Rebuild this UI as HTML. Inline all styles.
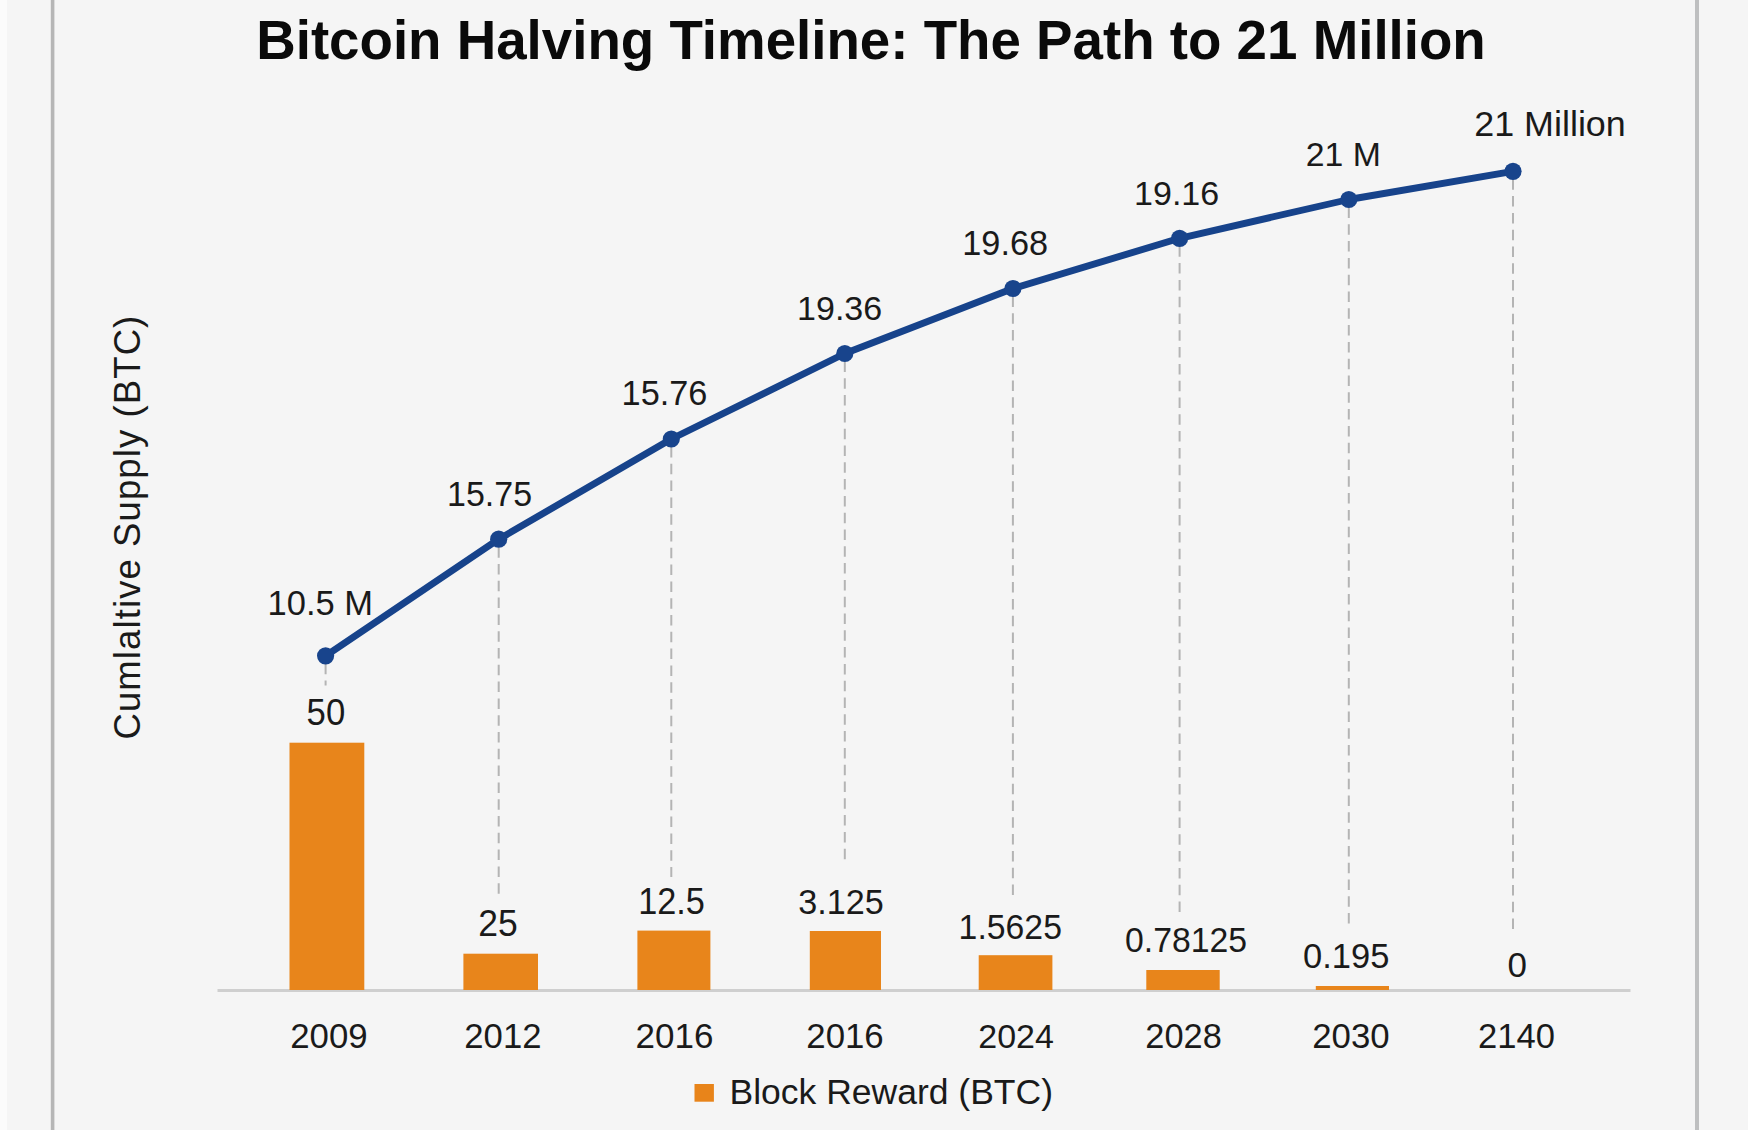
<!DOCTYPE html>
<html><head><meta charset="utf-8"><style>
html,body{margin:0;padding:0;width:1748px;height:1130px;overflow:hidden;background:#f5f5f5}
svg{display:block;font-family:"Liberation Sans",sans-serif;fill:#1a1a1a}
</style></head><body>
<svg width="1748" height="1130" viewBox="0 0 1748 1130">
<rect x="0" y="0" width="1748" height="1130" fill="#f5f5f5"/>
<rect x="0" y="0" width="7" height="1130" fill="#fbfbfb"/>

<rect x="50.8" y="0" width="3.6" height="1130" fill="#b6b6b6"/>
<rect x="1695" y="0" width="4" height="1130" fill="#bebfc0"/>
<line x1="325.6" y1="663.8" x2="325.6" y2="685.6" stroke="#b4b4b4" stroke-width="2" stroke-dasharray="10.5,6.3"/>
<line x1="498.7" y1="547.2" x2="498.7" y2="894.0" stroke="#b4b4b4" stroke-width="2" stroke-dasharray="10.5,6.3"/>
<line x1="671.3" y1="447.0" x2="671.3" y2="877.0" stroke="#b4b4b4" stroke-width="2" stroke-dasharray="10.5,6.3"/>
<line x1="844.8" y1="361.5" x2="844.8" y2="861.6" stroke="#b4b4b4" stroke-width="2" stroke-dasharray="10.5,6.3"/>
<line x1="1012.9" y1="296.5" x2="1012.9" y2="895.0" stroke="#b4b4b4" stroke-width="2" stroke-dasharray="10.5,6.3"/>
<line x1="1179.6" y1="246.3" x2="1179.6" y2="913.0" stroke="#b4b4b4" stroke-width="2" stroke-dasharray="10.5,6.3"/>
<line x1="1348.8" y1="207.5" x2="1348.8" y2="930.0" stroke="#b4b4b4" stroke-width="2" stroke-dasharray="10.5,6.3"/>
<line x1="1513.0" y1="179.3" x2="1513.0" y2="932.0" stroke="#b4b4b4" stroke-width="2" stroke-dasharray="10.5,6.3"/>
<rect x="217.5" y="989" width="1413" height="3" fill="#cfcfcf"/>
<rect x="289.5" y="742.7" width="74.8" height="247.3" fill="#e8851b"/>
<rect x="463.4" y="953.7" width="74.6" height="36.3" fill="#e8851b"/>
<rect x="637.4" y="930.6" width="73.0" height="59.4" fill="#e8851b"/>
<rect x="809.8" y="931" width="71.2" height="59.0" fill="#e8851b"/>
<rect x="978.7" y="955.2" width="73.7" height="34.8" fill="#e8851b"/>
<rect x="1146.3" y="970" width="73.4" height="20.0" fill="#e8851b"/>
<rect x="1315.8" y="986" width="73.2" height="4.0" fill="#e8851b"/>
<path d="M325.6,655.8 L498.7,539.2 L671.3,439 L844.8,353.5 L1012.9,288.5 L1179.6,238.3 L1348.8,199.5 L1513,171.3" fill="none" stroke="#17438b" stroke-width="6.9" stroke-linecap="round" stroke-linejoin="round"/>
<circle cx="325.6" cy="655.8" r="8.6" fill="#18448c"/>
<circle cx="498.7" cy="539.2" r="8.6" fill="#18448c"/>
<circle cx="671.3" cy="439" r="8.6" fill="#18448c"/>
<circle cx="844.8" cy="353.5" r="8.6" fill="#18448c"/>
<circle cx="1012.9" cy="288.5" r="8.6" fill="#18448c"/>
<circle cx="1179.6" cy="238.3" r="8.6" fill="#18448c"/>
<circle cx="1348.8" cy="199.5" r="8.6" fill="#18448c"/>
<circle cx="1513" cy="171.3" r="8.6" fill="#18448c"/>
<rect x="694.5" y="1084" width="19.4" height="17.7" fill="#e8841a"/>
<text x="267.6" y="615.2" font-size="34.5">10.5 M</text>
<text transform="translate(447.0,505.8) scale(1,1.05)" font-size="34.0">15.75</text>
<text x="621.6" y="405.4" font-size="34.3">15.76</text>
<text x="797.1" y="320" font-size="34.0">19.36</text>
<text x="962.3" y="254.6" font-size="34.3">19.68</text>
<text x="1134.1" y="204.5" font-size="34.0">19.16</text>
<text x="1305.7" y="166.3" font-size="33.8">21 M</text>
<text x="1474.2" y="136.4" font-size="35.9">21 Million</text>
<text transform="translate(306.6,724.7) scale(1,1.08)" font-size="34.7">50</text>
<text transform="translate(478.2,936) scale(1,1.05)" font-size="35.5">25</text>
<text transform="translate(638.2,913.6) scale(1,1.08)" font-size="34.3">12.5</text>
<text x="798.3" y="913.8" font-size="34.2">3.125</text>
<text transform="translate(958.6,938.5) scale(1,1.055)" font-size="33.8">1.5625</text>
<text transform="translate(1125.0,952) scale(1,1.035)" font-size="33.8">0.78125</text>
<text x="1303.0" y="967.5" font-size="34.5">0.195</text>
<text x="1507.4" y="977.3" font-size="35.0">0</text>
<text x="290.2" y="1048" font-size="34.8">2009</text>
<text x="464.3" y="1048" font-size="34.7">2012</text>
<text x="635.6" y="1048" font-size="35.0">2016</text>
<text x="806.3" y="1047.6" font-size="34.8">2016</text>
<text x="978.3" y="1047.6" font-size="34.0">2024</text>
<text x="1145.3" y="1047.6" font-size="34.4">2028</text>
<text x="1312.2" y="1048.2" font-size="34.8">2030</text>
<text x="1478.0" y="1048.2" font-size="34.6">2140</text>
<text x="729.5" y="1104" font-size="35.5">Block Reward (BTC)</text>
<text x="256.2" y="58.7" font-size="54.7" font-weight="bold" fill="#0a0a0a">Bitcoin Halving Timeline: The Path to 21 Million</text>
<text transform="translate(139.5,739.5) rotate(-90)" x="0" y="0" font-size="36.5" letter-spacing="1.1">Cumlaltive Supply (BTC)</text>
</svg>
</body></html>
